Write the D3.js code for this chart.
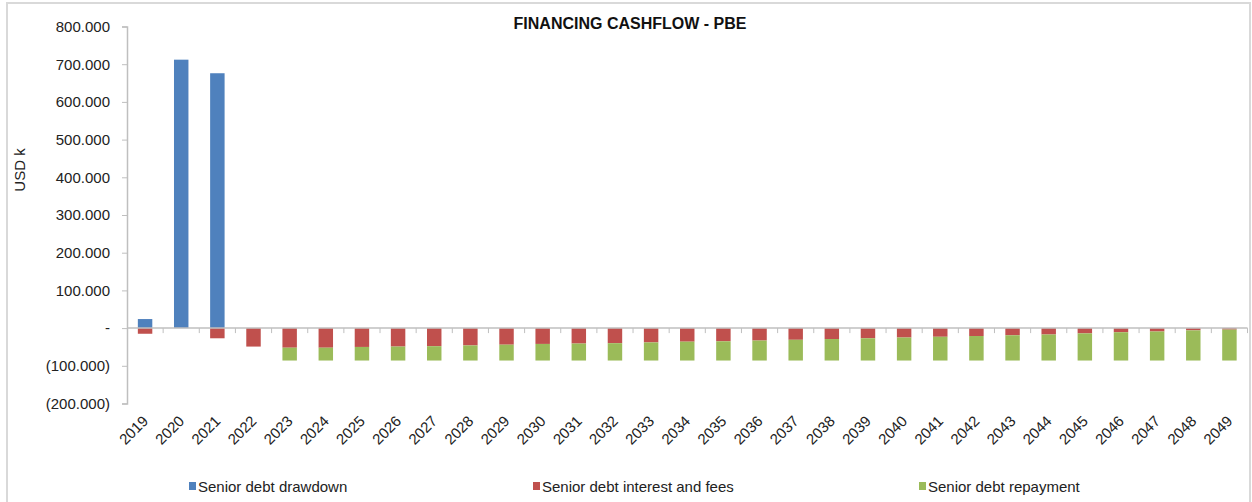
<!DOCTYPE html>
<html>
<head>
<meta charset="utf-8">
<script src="https://cdn.jsdelivr.net/npm/d3@7"></script>
<style>
  html, body { margin: 0; padding: 0; background: #fff; }
  svg { display: block; font-family: "Liberation Sans", Arial, sans-serif; }
</style>
</head>
<body>
<svg id="chart" width="1252" height="502"></svg>
<script>
const years = ["2019","2020","2021","2022","2023","2024","2025","2026","2027","2028","2029","2030","2031","2032","2033","2034","2035","2036","2037","2038","2039","2040","2041","2042","2043","2044","2045","2046","2047","2048","2049"];
const drawdown = [24000,712000,676000,0,0,0,0,0,0,0,0,0,0,0,0,0,0,0,0,0,0,0,0,0,0,0,0,0,0,0,0];
const interest = [-15000,0,-27000,-49000,-52000,-52000,-50000,-49000,-48000,-46000,-44000,-42000,-41000,-40000,-38000,-36000,-35000,-33000,-31000,-29000,-27000,-25000,-23000,-21000,-19000,-17000,-14000,-11000,-9000,-6000,-4000];
const repayment = [0,0,0,0,-34000,-34000,-36000,-37000,-38000,-40000,-42000,-44000,-45000,-46000,-48000,-50000,-51000,-53000,-55000,-57000,-59000,-61000,-63000,-65000,-67000,-69000,-72000,-75000,-77000,-80000,-82000];
const yTicks = [800000,700000,600000,500000,400000,300000,200000,100000,0,-100000,-200000];
const seriesNames = ["Senior debt drawdown","Senior debt interest and fees","Senior debt repayment"];
const colors = ["#4F81BD","#C0504D","#9BBB59"];
const title = "FINANCING CASHFLOW - PBE";
const yTitle = "USD k";

const svg = d3.select("#chart");

// outer border
svg.append("rect").attr("x",7).attr("y",3).attr("width",1243).attr("height",520)
  .attr("fill","none").attr("stroke","#d9d9d9").attr("stroke-width",2);

const x = d3.scaleBand().domain(years).range([127,1247.5]).paddingInner(0.6).paddingOuter(0.3);
const y = d3.scaleLinear().domain([-200000,800000]).range([403.5,26.5]);

const fmt = v => {
  if (v === 0) return "-";
  const s = d3.format(",")(Math.abs(v)).replace(/,/g,".");
  return v < 0 ? "(" + s + ")" : s;
};

// y axis
const yAxis = d3.axisLeft(y).tickValues(yTicks).tickFormat(fmt).tickSize(5).tickPadding(12);
const gy = svg.append("g").attr("transform","translate(127,0)").call(yAxis);
gy.select(".domain").attr("stroke","#bfbfbf").attr("stroke-width",1.5);
gy.selectAll(".tick line").attr("stroke","#bfbfbf");
gy.selectAll(".tick text").attr("font-size",15).attr("fill","#222")
  .attr("font-family","'Liberation Sans', Arial, sans-serif");

// bars
const data = years.map((yr,i)=>({yr, d:drawdown[i], r:interest[i], p:repayment[i]}));
const bw = x.bandwidth();
const g = svg.append("g");
// drawdown
g.selectAll(".bd").data(data.filter(d=>d.d>0)).join("rect")
  .attr("x",d=>x(d.yr)).attr("width",bw)
  .attr("y",d=>y(d.d)).attr("height",d=>y(0)-y(d.d)).attr("fill",colors[0]);
// interest (negative, from zero down)
g.selectAll(".bi").data(data.filter(d=>d.r<0)).join("rect")
  .attr("x",d=>x(d.yr)).attr("width",bw)
  .attr("y",y(0)).attr("height",d=>y(d.r)-y(0)).attr("fill",colors[1]);
// repayment stacked below interest
g.selectAll(".bp").data(data.filter(d=>d.p<0)).join("rect")
  .attr("x",d=>x(d.yr)).attr("width",bw)
  .attr("y",d=>y(d.r)).attr("height",d=>y(d.r+d.p)-y(d.r)).attr("fill",colors[2]);

// zero line and category ticks
svg.append("line").attr("x1",127).attr("x2",1247.5).attr("y1",y(0)).attr("y2",y(0))
  .attr("stroke","#bfbfbf").attr("stroke-width",1.5);
const step = x.step();
const bounds = years.map((yr,i)=>x(yr) - x.paddingOuter()*0 ).map((v,i)=>i);
svg.append("g").selectAll("line").data(years).join("line")
  .attr("x1",d=>x(d)+bw/2+step/2).attr("x2",d=>x(d)+bw/2+step/2)
  .attr("y1",y(0)).attr("y2",y(0)+5).attr("stroke","#bfbfbf");

// x labels
svg.append("g").selectAll("text").data(years).join("text")
  .attr("transform",d=>`translate(${x(d)+bw/2+4},422) rotate(-45)`)
  .attr("text-anchor","end").attr("font-size",15).attr("fill","#222")
  .text(d=>d);

// title
svg.append("text").attr("x",630).attr("y",29).attr("text-anchor","middle")
  .attr("font-size",16).attr("font-weight","bold").attr("fill","#111").text(title);

// y title
svg.append("text").attr("transform","translate(25,170) rotate(-90)")
  .attr("text-anchor","middle").attr("font-size",15).attr("fill","#222").text(yTitle);

// legend
const legX = [189,533,919];
const lg = svg.append("g");
seriesNames.forEach((n,i)=>{
  lg.append("rect").attr("x",legX[i]).attr("y",482).attr("width",7).attr("height",8).attr("fill",colors[i]);
  lg.append("text").attr("x",legX[i]+9).attr("y",492).attr("font-size",15).attr("fill","#222").text(n);
});
</script>
</body>
</html>
